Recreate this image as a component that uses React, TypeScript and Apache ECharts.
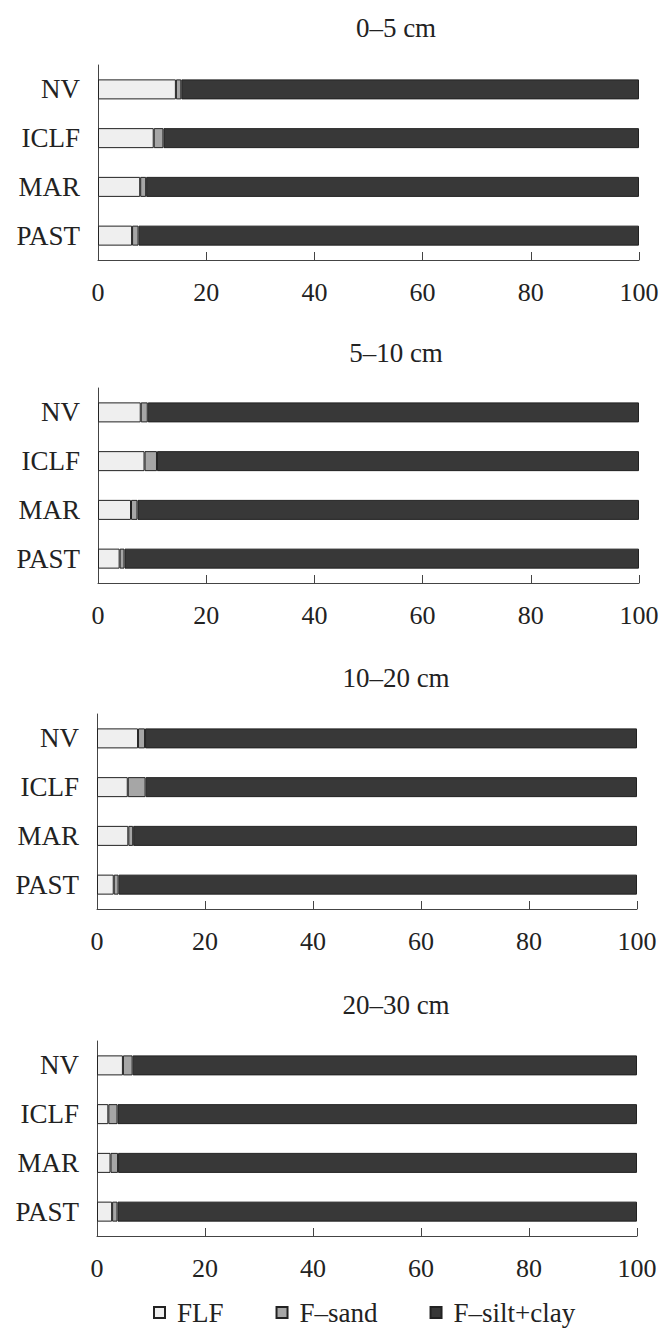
import React, { useEffect, useRef } from "react";
import * as echarts from "echarts";

const categories = ["NV", "ICLF", "MAR", "PAST"];
const panelTitles = ["0–5 cm", "5–10 cm", "10–20 cm", "20–30 cm"];
const seriesNames = ["FLF", "F–sand", "F–silt+clay"];
const xTicks = [0, 20, 40, 60, 80, 100];

const flf05 = [14.4, 10.3, 7.8, 6.3];
const sand05 = [1.0, 1.8, 1.1, 1.2];
const silt05 = [84.6, 87.9, 91.1, 92.5];

const flf510 = [7.9, 8.6, 6.1, 4.0];
const sand510 = [1.3, 2.3, 1.2, 0.9];
const silt510 = [90.8, 89.1, 92.7, 95.1];

const flf1020 = [7.6, 5.7, 5.8, 3.1];
const sand1020 = [1.3, 3.3, 0.9, 0.9];
const silt1020 = [91.1, 91.0, 93.3, 96.0];

const flf2030 = [4.8, 2.1, 2.5, 2.8];
const sand2030 = [1.8, 1.7, 1.4, 1.0];
const silt2030 = [93.4, 96.2, 96.1, 96.2];

const panelData = [
  [flf05, sand05, silt05],
  [flf510, sand510, silt510],
  [flf1020, sand1020, silt1020],
  [flf2030, sand2030, silt2030],
];

const colors = ["#efefef", "#a6a6a6", "#383838"];
const gridTops = [65, 388, 714, 1041];
const gridLefts = [98, 98, 97, 97];
const gridWidths = [541, 541, 540, 540];
const titleTops = [9, 334, 659, 986];
const FONT = "'Liberation Serif', 'Times New Roman', serif";

export default function App() {
  const ref = useRef<HTMLDivElement>(null);
  useEffect(() => {
    if (!ref.current) return;
    const chart = echarts.init(ref.current, null, { renderer: "svg" });
    const grids = gridTops.map((t, i) => ({
      left: gridLefts[i],
      top: t,
      width: gridWidths[i],
      height: 195,
      containLabel: false,
    }));
    const xAxes = gridTops.map((_, i) => ({
      type: "value",
      gridIndex: i,
      min: xTicks[0],
      max: xTicks[xTicks.length - 1],
      interval: 20,
      axisLine: { show: true, lineStyle: { color: "#444", width: 1 } },
      axisTick: { show: true, inside: true, length: 8, lineStyle: { color: "#444" } },
      splitLine: { show: false },
      axisLabel: { fontSize: 26, color: "#222", fontFamily: FONT, margin: 19 },
    }));
    const yAxes = gridTops.map((_, i) => ({
      type: "category",
      gridIndex: i,
      data: categories,
      inverse: true,
      axisLine: { show: true, lineStyle: { color: "#444", width: 1 } },
      axisTick: { show: false },
      axisLabel: { fontSize: 27, color: "#222", fontFamily: FONT, margin: 18 },
    }));
    const series: any[] = [];
    panelData.forEach((arrs, i) => {
      arrs.forEach((vals, j) => {
        series.push({
          name: seriesNames[j],
          type: "bar",
          stack: "p" + i,
          xAxisIndex: i,
          yAxisIndex: i,
          barWidth: 20,
          data: vals,
          itemStyle: { color: colors[j], borderColor: "#222", borderWidth: 1 },
        });
      });
    });
    chart.setOption({
      animation: false,
      textStyle: { fontFamily: FONT, color: "#222" },
      title: panelTitles.map((t, i) => ({
        text: t,
        left: 391,
        top: titleTops[i],
        textAlign: "center",
        textStyle: { fontSize: 27, fontWeight: "normal", color: "#222", fontFamily: FONT },
      })),
      legend: {
        data: seriesNames,
        left: 153,
        top: 1299,
        padding: 0,
        icon: "rect",
        itemWidth: 11,
        itemHeight: 11,
        itemGap: 52,
        textStyle: { fontSize: 27, color: "#222", fontFamily: FONT, padding: [0, 0, 0, 7] },
      },
      grid: grids,
      xAxis: xAxes,
      yAxis: yAxes,
      series,
    });
    return () => chart.dispose();
  }, []);
  return (
    <div
      ref={ref}
      style={{ position: "absolute", left: 0, top: 0, width: 664, height: 1329, background: "#fff" }}
    />
  );
}
